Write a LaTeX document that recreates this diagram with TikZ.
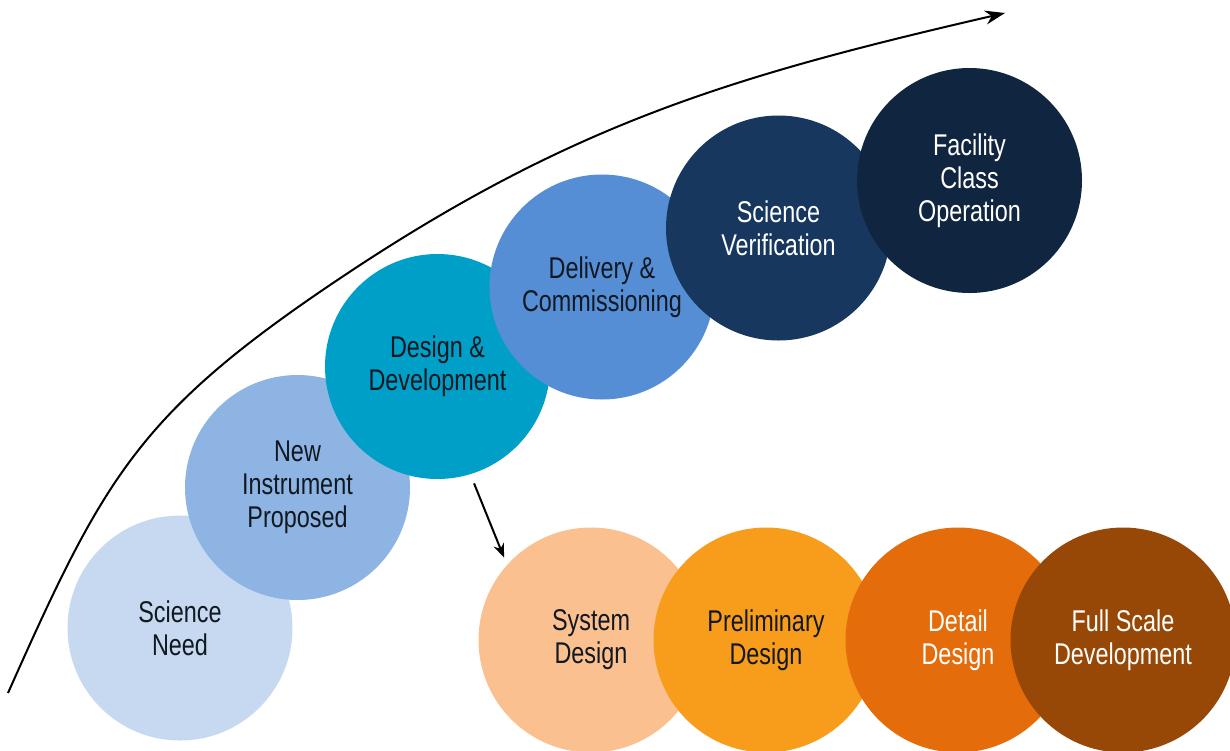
\documentclass[tikz,border=0pt]{standalone}
\usepackage{fontspec}
\setmainfont{Liberation Sans}[FakeStretch=0.78]
\usetikzlibrary{arrows.meta}
\definecolor{need}{HTML}{C6D9F0}
\definecolor{proposed}{HTML}{8EB4E3}
\definecolor{design}{HTML}{009FC8}
\definecolor{delivery}{HTML}{558ED5}
\definecolor{verify}{HTML}{17375E}
\definecolor{facility}{HTML}{10253F}
\definecolor{system}{HTML}{FAC090}
\definecolor{prelim}{HTML}{F89C1C}
\definecolor{detail}{HTML}{E46C0A}
\definecolor{fullscale}{HTML}{974806}
\definecolor{ink}{HTML}{111820}
\tikzset{
    every node/.style={circle, inner sep=0pt, minimum size=112.5pt,
    	align=center, text=ink, font=\fontsize{15}{16.5}\selectfont}
}
\tikzset{
    every path/.append style={line width=1pt}
}

\begin{document}
\begin{tikzpicture}[x=0.5pt,y=0.5pt]
	\useasboundingbox (0,0) rectangle (1230,-750);
	\node (1) [fill=need] at (180,-628) {Science\\Need};
	\node (2) [fill=proposed] at (297.5,-487.5) {New\\Instrument\\Proposed};
	\node (3) [fill=design] at (437.5,-366.5) {Design \&\\Development};
	\node (4) [fill=delivery] at (602,-287) {Delivery \&\\Commissioning};
	\node (5) [fill=verify, text=white] at (778.5,-228) {Science\\Verification};
	\node (6) [fill=facility, text=white] at (969.5,-180.5) {Facility\\Class\\Operation};
	\node (7) [fill=system] at (591,-640) {System\\Design};
	\node (8) [fill=prelim] at (766,-640) {Preliminary\\Design};
	\node (9) [fill=detail, text=white] at (958,-640) {Detail\\Design};
	\node (10) [fill=fullscale, text=white] at (1123,-640) {Full Scale\\Development};
	
	\coordinate (start) at (8,-693);
	\coordinate (bend) at (333,-283);
	\coordinate (tip) at (1005,-13);
	\draw [-{Stealth[length=10pt,width=7pt]}] (start) to[out=66,in=214,looseness=1.15] (bend)
		to[out=34,in=193] (tip);
	\draw [-{Stealth[length=7pt,width=5.5pt]}, shorten <=4.5pt, shorten >=3.5pt]
		(3.-73) -- (7.138);
\end{tikzpicture}
\end{document}
